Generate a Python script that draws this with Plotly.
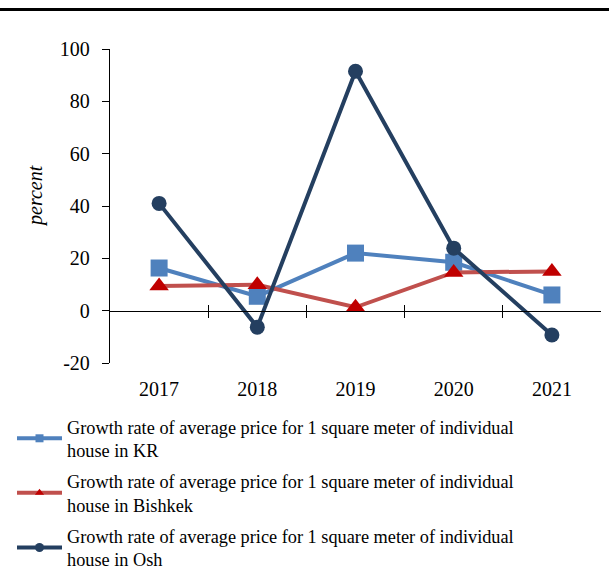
import plotly.graph_objects as go

years = ["2017", "2018", "2019", "2020", "2021"]
kr = [16.3, 5.5, 22.0, 18.5, 6.0]
bishkek = [9.4, 9.9, 1.3, 14.6, 15.0]
osh = [41.0, -6.3, 91.5, 23.9, -9.3]
y_ticks = [-20, 0, 20, 40, 60, 80, 100]
y_tick_text = ["-20", "0", "20", "40", "60", "80", "100"]

names = [
    "Growth rate of average price for 1 square meter of individual<br>house in KR",
    "Growth rate of average price for 1 square meter of individual<br>house in Bishkek",
    "Growth rate of average price for 1 square meter of individual<br>house in Osh",
]

FONT = "Liberation Serif, Times New Roman, serif"
c_kr = "#4F81BD"
c_bl = "#C0504D"
c_bm = "#C00000"
c_osh = "#243F60"

W, H = 609, 573
PL, PR, PT, PB = 110, 601, 49, 363  # plot area in pixels

def px_x(x):
    return x / W

def px_y(y):
    return 1 - y / H

fig = go.Figure()
fig.add_trace(go.Scatter(x=years, y=kr, mode="lines+markers", showlegend=False,
                         line=dict(color=c_kr, width=4),
                         marker=dict(symbol="square", size=17, color=c_kr)))
fig.add_trace(go.Scatter(x=years, y=bishkek, mode="lines+markers", showlegend=False,
                         line=dict(color=c_bl, width=4),
                         marker=dict(symbol="triangle-up", size=17, color=c_bm)))
fig.add_trace(go.Scatter(x=years, y=osh, mode="lines+markers", showlegend=False,
                         line=dict(color=c_osh, width=4),
                         marker=dict(symbol="circle", size=15, color=c_osh)))

# legend-only entries with small markers
fig.add_trace(go.Scatter(x=[None], y=[None], mode="lines+markers", name=names[0],
                         legendgroup="kr",
                         line=dict(color=c_kr, width=4),
                         marker=dict(symbol="square", size=8, color=c_kr)))
fig.add_trace(go.Scatter(x=[None], y=[None], mode="lines+markers", name=names[1],
                         legendgroup="bishkek",
                         line=dict(color=c_bl, width=4),
                         marker=dict(symbol="triangle-up", size=8, color=c_bm)))
fig.add_trace(go.Scatter(x=[None], y=[None], mode="lines+markers", name=names[2],
                         legendgroup="osh",
                         line=dict(color=c_osh, width=4),
                         marker=dict(symbol="circle", size=9, color=c_osh)))

# empty traces so that the zero-line axes (with crossing boundary ticks) get drawn
fig.add_trace(go.Scatter(x=[None], y=[None], xaxis="x2", showlegend=False, hoverinfo="skip"))
fig.add_trace(go.Scatter(x=[None], y=[None], xaxis="x3", showlegend=False, hoverinfo="skip"))

ymin, ymax = y_ticks[0], y_ticks[-1]
y_dom = [px_y(PB), px_y(PT)]
zero_pos = y_dom[0] + (0 - ymin) / (ymax - ymin) * (y_dom[1] - y_dom[0])
boundaries = [0.5, 1.5, 2.5, 3.5]
x_dom = [px_x(PL), px_x(PR)]

fig.update_layout(
    width=W, height=H,
    margin=dict(l=0, r=0, t=0, b=0, autoexpand=False),
    paper_bgcolor="white", plot_bgcolor="white",
    font=dict(family=FONT, color="black", size=20),
    xaxis=dict(type="category", domain=x_dom, range=[-0.5, 4.5], showline=False,
               showgrid=False, zeroline=False, ticks="outside", ticklen=8,
               tickcolor="rgba(0,0,0,0)", tickfont=dict(size=20, family=FONT)),
    xaxis2=dict(overlaying="x", anchor="free", position=zero_pos, side="bottom",
                domain=x_dom, type="linear", range=[-0.5, 4.5], tickvals=boundaries,
                ticks="outside", ticklen=6, tickwidth=1.3, tickcolor="black",
                showline=True, linecolor="black", linewidth=1.3,
                showticklabels=False, showgrid=False, zeroline=False),
    xaxis3=dict(overlaying="x", anchor="free", position=zero_pos, side="bottom",
                domain=x_dom, type="linear", range=[-0.5, 4.5], tickvals=boundaries,
                ticks="inside", ticklen=6, tickwidth=1.3, tickcolor="black",
                showline=False, showticklabels=False, showgrid=False, zeroline=False),
    yaxis=dict(domain=y_dom, range=[ymin, ymax], tickvals=y_ticks, ticktext=y_tick_text,
               showline=True, linecolor="black",
               linewidth=1.3, ticks="outside", ticklen=7, tickwidth=1.3, tickcolor="black",
               ticklabelstandoff=8,
               showgrid=False, zeroline=False, tickfont=dict(size=20, family=FONT)),
    legend=dict(x=px_x(12), y=px_y(408), xanchor="left", yanchor="top",
                font=dict(size=18.3, family=FONT), itemwidth=45,
                tracegroupgap=4, bgcolor="rgba(0,0,0,0)"),
    annotations=[dict(text="<i>percent</i>", textangle=-90, xref="paper", yref="paper",
                      x=px_x(35), y=px_y(196), xanchor="center", yanchor="middle",
                      showarrow=False, font=dict(size=20, family=FONT))],
    shapes=[dict(type="line", xref="paper", yref="paper",
                 x0=0, x1=1, y0=px_y(9.5), y1=px_y(9.5),
                 line=dict(color="black", width=3))],
)

fig.write_html("out.html", config={"displayModeBar": False},
               post_script="document.body.style.margin='0px';")
